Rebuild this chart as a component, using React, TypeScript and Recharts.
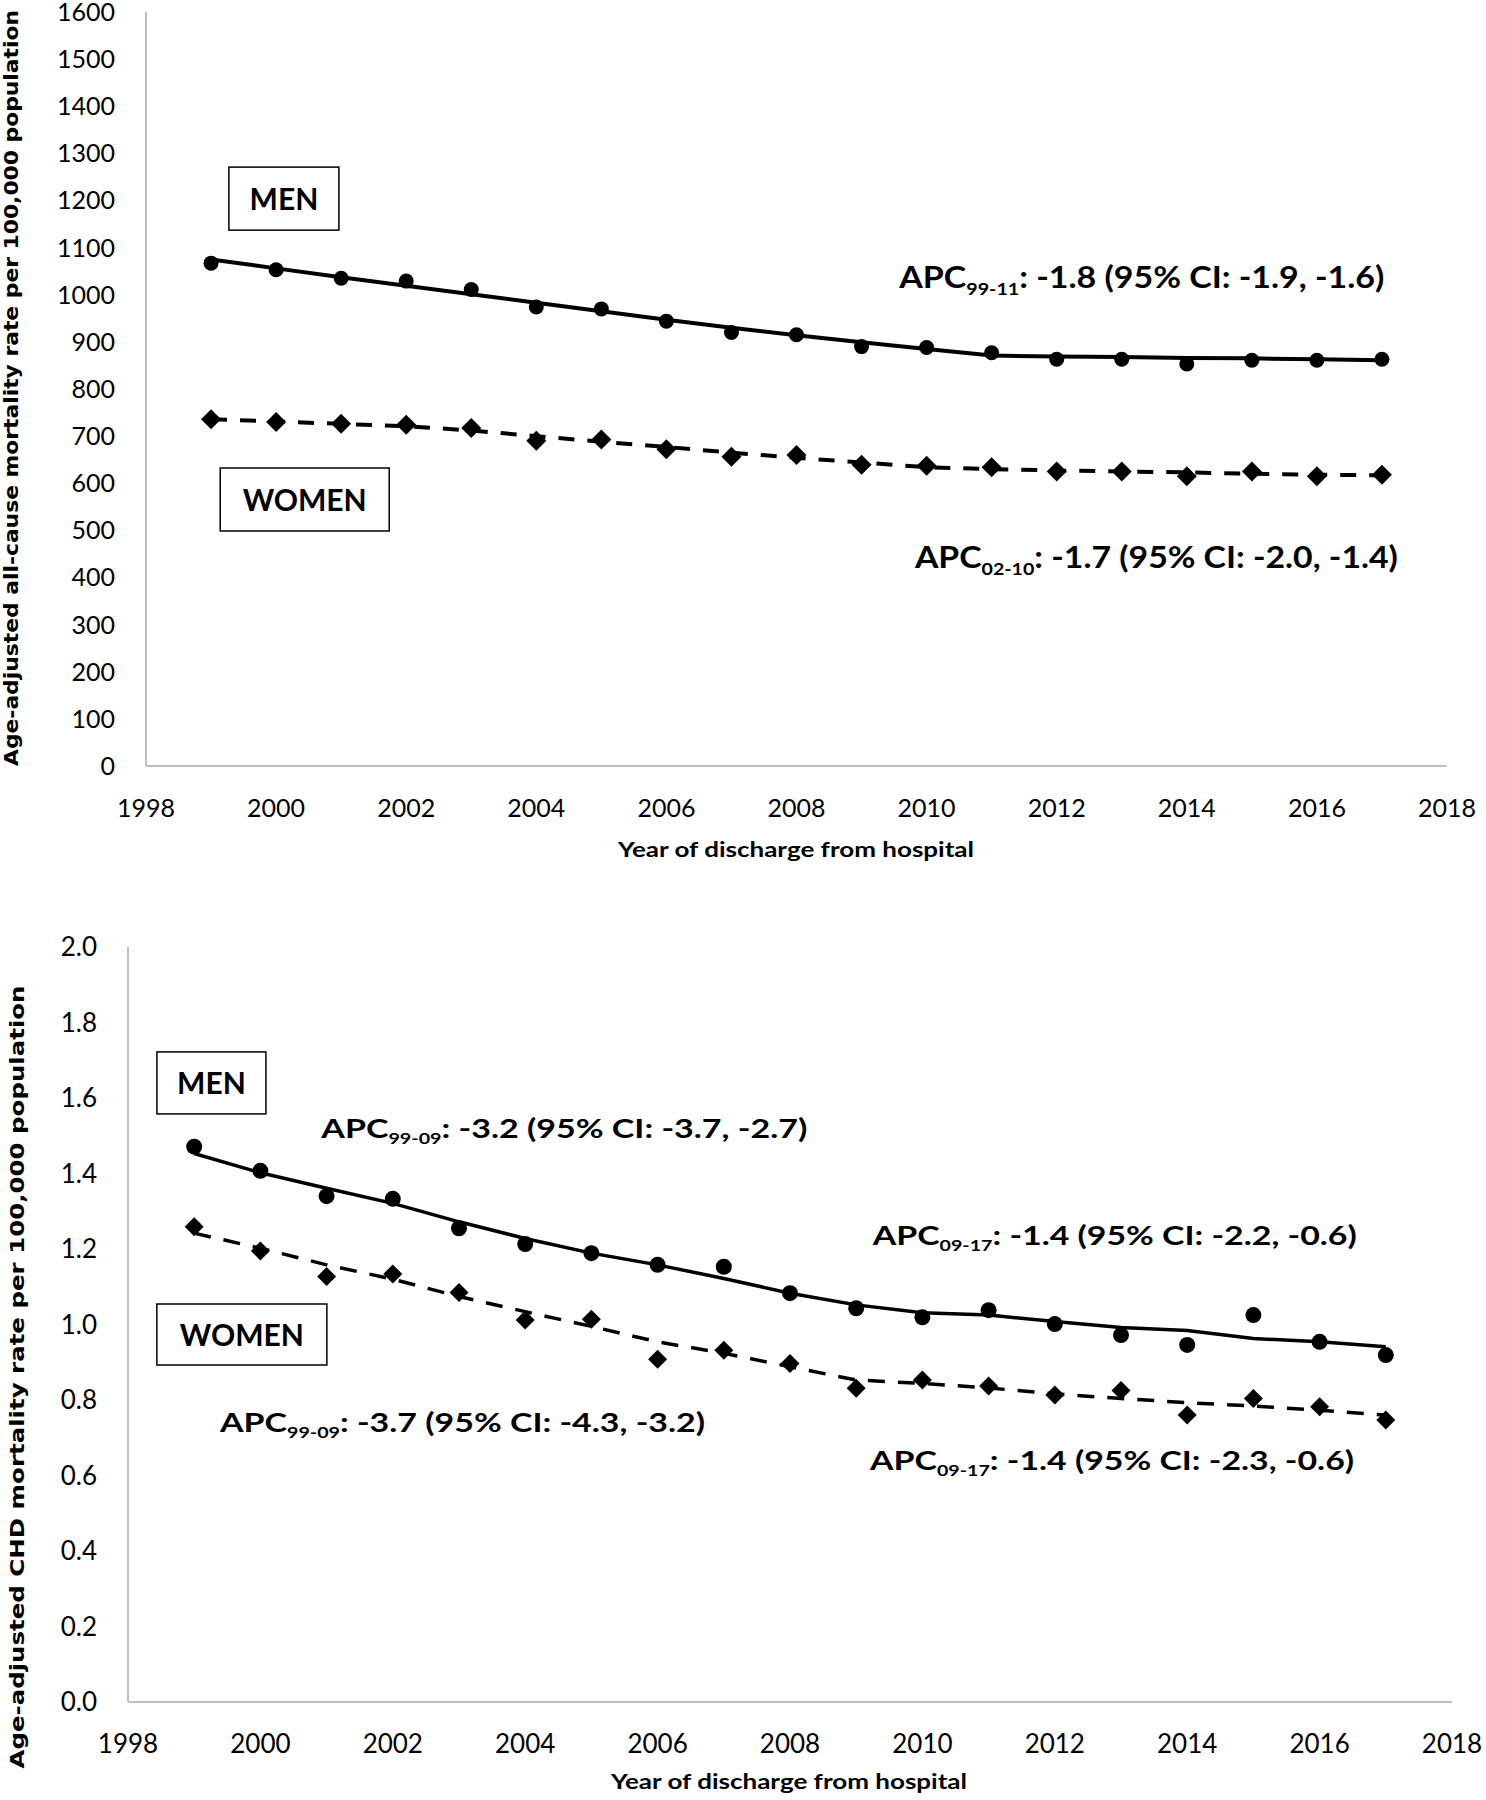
import { ComposedChart, Line, XAxis, YAxis, ReferenceDot } from 'recharts';

// Observation years (1999-2017)
const YEARS = [1999, 2000, 2001, 2002, 2003, 2004, 2005, 2006, 2007, 2008, 2009, 2010, 2011, 2012, 2013, 2014, 2015, 2016, 2017];

// Panel A: age-adjusted all-cause mortality per 100,000
const ALL_MEN_OBS = [1067, 1053, 1035, 1029, 1011, 974, 970, 944, 920, 915, 890, 888, 877, 863, 863, 853, 861, 861, 863];
const ALL_MEN_FIT = [1075, 1056, 1037, 1019, 1001, 983, 965, 947, 930, 914, 899, 885, 871, 869, 868, 866, 865, 863, 861];
const ALL_WOMEN_OBS = [736, 730, 726, 724, 717, 690, 693, 672, 656, 660, 639, 637, 634, 625, 625, 615, 625, 615, 618];
const ALL_WOMEN_FIT = [736, 731, 726, 721, 712, 700, 688, 677, 665, 654, 644, 634, 630, 627, 625, 623, 620, 618, 617];

// Panel B: age-adjusted CHD mortality per 100,000
const CHD_MEN_OBS = [1.471, 1.407, 1.34, 1.333, 1.255, 1.213, 1.189, 1.158, 1.153, 1.083, 1.043, 1.019, 1.038, 1.001, 0.972, 0.946, 1.025, 0.954, 0.919];
const CHD_MEN_FIT = [1.453, 1.402, 1.361, 1.321, 1.272, 1.228, 1.189, 1.158, 1.122, 1.083, 1.052, 1.031, 1.025, 1.008, 0.992, 0.984, 0.963, 0.954, 0.941];
const CHD_WOMEN_OBS = [1.259, 1.195, 1.127, 1.134, 1.085, 1.012, 1.014, 0.908, 0.932, 0.897, 0.831, 0.853, 0.837, 0.813, 0.825, 0.76, 0.804, 0.782, 0.747];
const CHD_WOMEN_FIT = [1.242, 1.202, 1.158, 1.12, 1.074, 1.034, 0.995, 0.954, 0.924, 0.888, 0.853, 0.844, 0.832, 0.816, 0.804, 0.793, 0.784, 0.773, 0.76];

const YEAR_TICKS = [1998, 2000, 2002, 2004, 2006, 2008, 2010, 2012, 2014, 2016, 2018];
const ALL_TICKS = [0, 100, 200, 300, 400, 500, 600, 700, 800, 900, 1000, 1100, 1200, 1300, 1400, 1500, 1600];
const CHD_TICKS = [0, 0.2, 0.4, 0.6, 0.8, 1.0, 1.2, 1.4, 1.6, 1.8, 2.0];

const X_TITLE = 'Year of discharge from hospital';
const ALL_Y_TITLE = 'Age-adjusted all-cause mortality rate per 100,000 population';
const CHD_Y_TITLE = 'Age-adjusted CHD mortality rate per 100,000 population';

const W = 1486;
const H = 900;
const AXIS = '#bfbfbf';
const TICK = { fontFamily: 'Lato', fontSize: 25, fill: '#000' };

function rows(men: number[], menFit: number[], women: number[], womenFit: number[]) {
  return YEARS.map((year, i) => ({ year, men: men[i], menFit: menFit[i], women: women[i], womenFit: womenFit[i] }));
}

const circleDot = (r: number) => (p: any) =>
  p.cx == null ? <g key={`c-${p.index}`} /> : <circle key={`c-${p.index}`} cx={p.cx} cy={p.cy} r={r} fill="#000" />;

const diamondDot = (h: number) => (p: any) =>
  p.cx == null ? (
    <g key={`d-${p.index}`} />
  ) : (
    <polygon
      key={`d-${p.index}`}
      points={`${p.cx},${p.cy - h} ${p.cx + h},${p.cy} ${p.cx},${p.cy + h} ${p.cx - h},${p.cy}`}
      fill="#000"
    />
  );

const boxShape = (label: string, w: number, h: number) => (p: any) => (
  <g>
    <rect x={p.cx - w / 2} y={p.cy - h / 2} width={w} height={h} fill="#fff" stroke="#000" strokeWidth={1.5} />
    <text x={p.cx} y={p.cy + 11} textAnchor="middle" fontFamily="Lato" fontWeight={700} fontSize={30} fill="#000">
      {label}
    </text>
  </g>
);

const apcShape = (sub: string, rest: string, width: number, size: number) => (p: any) => (
  <text
    x={p.cx}
    y={p.cy}
    fontFamily="Lato"
    fontWeight={700}
    fontSize={size}
    fill="#000"
    textLength={width}
    lengthAdjust="spacingAndGlyphs"
  >
    APC
    <tspan fontSize={size * 0.58} dy={size * 0.23}>
      {sub}
    </tspan>
    <tspan dy={-size * 0.23}>{rest}</tspan>
  </text>
);

function Titles({ xTitle, yTitle, xCenter, xBase, yX, yCenter, yLen, ySize }: any) {
  return (
    <svg width={W} height={H} style={{ position: 'absolute', left: 0, top: 0, pointerEvents: 'none' }}>
      <text
        x={xCenter}
        y={xBase}
        textAnchor="middle"
        fontFamily="Lato"
        fontWeight={700}
        fontSize={21}
        fill="#000"
        textLength={356}
        lengthAdjust="spacingAndGlyphs"
      >
        {xTitle}
      </text>
      <text
        transform={`translate(${yX},${yCenter}) rotate(-90)`}
        textAnchor="middle"
        fontFamily="DejaVu Sans"
        fontWeight={700}
        fontSize={ySize}
        fill="#000"
        textLength={yLen}
        lengthAdjust="spacingAndGlyphs"
      >
        {yTitle}
      </text>
    </svg>
  );
}

function AllCauseChart() {
  const data = rows(ALL_MEN_OBS, ALL_MEN_FIT, ALL_WOMEN_OBS, ALL_WOMEN_FIT);
  return (
    <div style={{ position: 'relative', width: W, height: H }}>
      <ComposedChart width={W} height={H} data={data} margin={{ top: 12, right: 39, bottom: 0, left: 0 }}>
        <XAxis
          dataKey="year"
          type="number"
          domain={[1998, 2018]}
          ticks={YEAR_TICKS}
          height={134}
          tickLine={false}
          tickSize={0}
          tickMargin={33}
          stroke={AXIS}
          strokeWidth={2}
          tick={TICK}
        />
        <YAxis
          type="number"
          domain={[0, 1600]}
          ticks={ALL_TICKS}
          width={146}
          tickLine={false}
          tickSize={0}
          tickMargin={31}
          stroke={AXIS}
          strokeWidth={2}
          tick={TICK}
          interval={0}
        />
        <Line dataKey="menFit" type="linear" stroke="#000" strokeWidth={4} dot={false} activeDot={false} isAnimationActive={false} />
        <Line dataKey="womenFit" type="linear" stroke="#000" strokeWidth={4} strokeDasharray="16 13" dot={false} activeDot={false} isAnimationActive={false} />
        <Line dataKey="men" stroke="none" dot={circleDot(7.5)} activeDot={false} isAnimationActive={false} />
        <Line dataKey="women" stroke="none" dot={diamondDot(10)} activeDot={false} isAnimationActive={false} />
        <ReferenceDot x={2000.12} y={1204} shape={boxShape('MEN', 110, 63)} />
        <ReferenceDot x={2000.44} y={565.5} shape={boxShape('WOMEN', 169, 63)} />
        <ReferenceDot x={2009.58} y={1014} shape={apcShape('99-11', ': -1.8 (95% CI: -1.9, -1.6)', 485, 30)} />
        <ReferenceDot x={2009.82} y={420} shape={apcShape('02-10', ': -1.7 (95% CI: -2.0, -1.4)', 483, 30)} />
      </ComposedChart>
      <Titles xTitle={X_TITLE} yTitle={ALL_Y_TITLE} xCenter={796} xBase={857} yX={18} yCenter={388} yLen={756} ySize={19} />
    </div>
  );
}

function ChdChart() {
  const data = rows(CHD_MEN_OBS, CHD_MEN_FIT, CHD_WOMEN_OBS, CHD_WOMEN_FIT);
  return (
    <div style={{ position: 'relative', width: W, height: H }}>
      <ComposedChart width={W} height={H} data={data} margin={{ top: 47, right: 34, bottom: 0, left: 0 }}>
        <XAxis
          dataKey="year"
          type="number"
          domain={[1998, 2018]}
          ticks={YEAR_TICKS}
          height={98}
          tickLine={false}
          tickSize={0}
          tickMargin={33}
          stroke={AXIS}
          strokeWidth={2}
          tick={{ ...TICK, fontSize: 26 }}
        />
        <YAxis
          type="number"
          domain={[0, 2]}
          ticks={CHD_TICKS}
          width={128}
          tickLine={false}
          tickSize={0}
          tickMargin={31}
          stroke={AXIS}
          strokeWidth={2}
          tick={{ ...TICK, fontSize: 26 }}
          tickFormatter={(v: number) => v.toFixed(1)}
          interval={0}
        />
        <Line dataKey="menFit" type="linear" stroke="#000" strokeWidth={3.5} dot={false} activeDot={false} isAnimationActive={false} />
        <Line dataKey="womenFit" type="linear" stroke="#000" strokeWidth={3.5} strokeDasharray="17 13" dot={false} activeDot={false} isAnimationActive={false} />
        <Line dataKey="men" stroke="none" dot={circleDot(8)} activeDot={false} isAnimationActive={false} />
        <Line dataKey="women" stroke="none" dot={diamondDot(9.5)} activeDot={false} isAnimationActive={false} />
        <ReferenceDot x={1999.26} y={1.64} shape={boxShape('MEN', 109, 62)} />
        <ReferenceDot x={1999.72} y={0.9735} shape={boxShape('WOMEN', 170, 61)} />
        <ReferenceDot x={2000.92} y={1.494} shape={apcShape('99-09', ': -3.2 (95% CI: -3.7, -2.7)', 486, 27)} />
        <ReferenceDot x={2009.25} y={1.2106} shape={apcShape('09-17', ': -1.4 (95% CI: -2.2, -0.6)', 484, 27)} />
        <ReferenceDot x={1999.39} y={0.715} shape={apcShape('99-09', ': -3.7 (95% CI: -4.3, -3.2)', 485, 27)} />
        <ReferenceDot x={2009.21} y={0.6146} shape={apcShape('09-17', ': -1.4 (95% CI: -2.3, -0.6)', 484, 27)} />
      </ComposedChart>
      <Titles xTitle={X_TITLE} yTitle={CHD_Y_TITLE} xCenter={789} xBase={889} yX={24} yCenter={477} yLen={783} ySize={20} />
    </div>
  );
}

export default function App() {
  return (
    <div style={{ position: 'absolute', left: 0, top: 0, width: W, height: 1800, background: '#fff' }}>
      <AllCauseChart />
      <ChdChart />
    </div>
  );
}
